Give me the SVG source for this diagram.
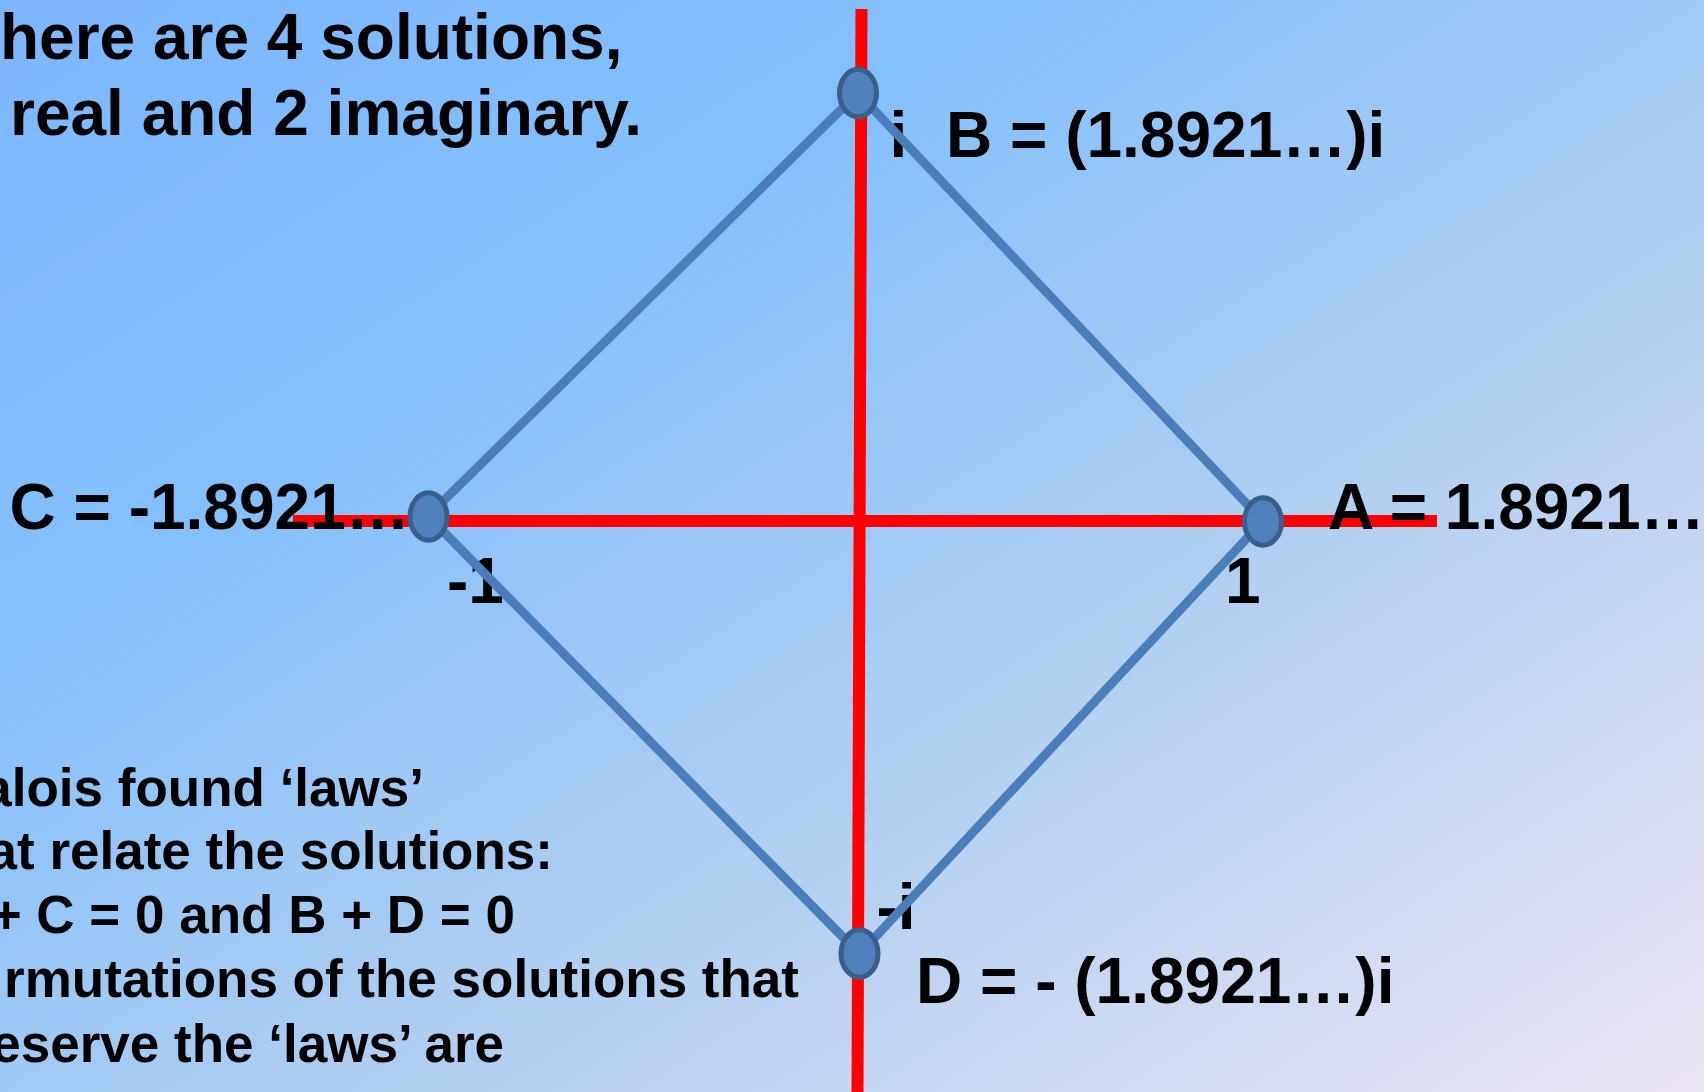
<svg xmlns="http://www.w3.org/2000/svg" width="1704" height="1092" viewBox="0 0 1704 1092">
  <defs>
    <linearGradient id="bg" x1="0" y1="0" x2="1" y2="1">
      <stop offset="0" stop-color="#7db6fe"/>
      <stop offset="0.3" stop-color="#84c0fd"/>
      <stop offset="0.6" stop-color="#aecef1"/>
      <stop offset="1" stop-color="#ebe4f4"/>
    </linearGradient>
    <style>
      .t { font-family: "Liberation Sans", Arial, sans-serif; font-weight: bold; fill: #000; }
      .big { font-size: 64px; }
      .body { font-size: 53px; }
      .axis { stroke: #ff0000; stroke-width: 12; fill: none; }
      .edge { stroke: #4a7ebb; stroke-width: 9; fill: none; }
      .pt { fill: #4f81bd; stroke: #3a5f8b; stroke-width: 5; }
    </style>
  </defs>

  <rect x="0" y="0" width="1704" height="1092" fill="url(#bg)"/>

  <g id="axes">
    <line class="axis" x1="293" y1="521" x2="1437" y2="521"/>
    <line class="axis" x1="861.5" y1="9" x2="857.5" y2="1092"/>
  </g>

  <g id="tick-labels" class="t big">
    <text x="889.5" y="157">i</text>
    <text x="1225" y="603">1</text>
    <text x="447" y="603">-1</text>
    <text x="876.5" y="929">-i</text>
  </g>

  <g id="connectors">
    <line class="edge" x1="858" y1="93" x2="1263" y2="521"/>
    <line class="edge" x1="1263" y1="521" x2="859.5" y2="954"/>
    <line class="edge" x1="859.5" y1="954" x2="428" y2="516"/>
    <line class="edge" x1="428" y1="516" x2="858" y2="93"/>
  </g>

  <g id="node-B">
    <ellipse class="pt" cx="858" cy="93" rx="18.5" ry="23.8"/>
    <text class="t big" x="946" y="157">B = (1.8921…)i</text>
  </g>
  <g id="node-A">
    <ellipse class="pt" cx="1263" cy="521.5" rx="18.5" ry="23.8"/>
    <text class="t big" x="1328" y="529">A = 1.8921…</text>
  </g>
  <g id="node-C">
    <ellipse class="pt" cx="428.5" cy="516.5" rx="18.5" ry="23.8"/>
    <text class="t big" x="9.5" y="529">C = -1.8921…</text>
  </g>
  <g id="node-D">
    <ellipse class="pt" cx="859.5" cy="953.5" rx="18.5" ry="23.8"/>
    <text class="t big" x="916" y="1003">D = - (1.8921…)i</text>
  </g>

  <g id="intro-text" class="t big">
    <text x="0" y="59">here are 4 solutions,</text>
    <text x="10" y="135">real and 2 imaginary.</text>
  </g>

  <g id="laws-text" class="t body" text-anchor="end">
    <text x="424" y="806">alois found ‘laws’</text>
    <text x="553" y="869">at relate the solutions:</text>
    <text x="515" y="933">+ C = 0 and B + D = 0</text>
    <text x="799" y="997">rmutations of the solutions that</text>
    <text x="504" y="1062">eserve the ‘laws’ are</text>
  </g>
</svg>
